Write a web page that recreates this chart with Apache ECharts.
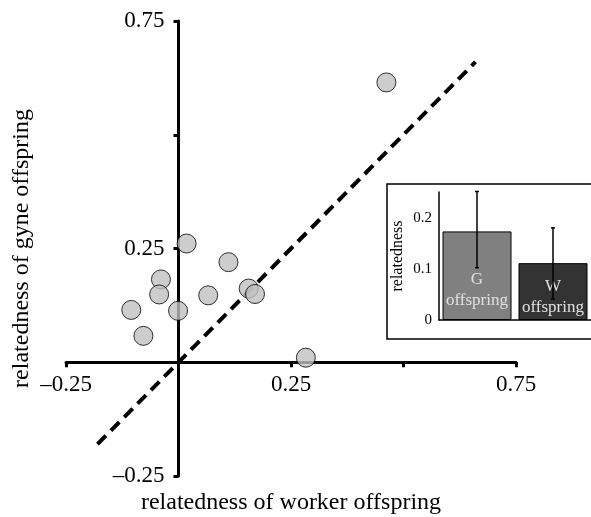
<!DOCTYPE html>
<html>
<head>
<meta charset="utf-8">
<script src="https://cdn.jsdelivr.net/npm/echarts@6/dist/echarts.min.js"></script>
<style>
  html, body { margin: 0; padding: 0; background: #fff; }
  #chart { width: 591px; height: 517px; }
</style>
</head>
<body>
<div id="chart"></div>
<script>
// main scatter: worker vs gyne offspring relatedness
const colonies = [
  [0.018, 0.261], [0.111, 0.220], [-0.039, 0.182], [-0.043, 0.149],
  [-0.105, 0.115], [-0.001, 0.113], [-0.078, 0.058], [0.066, 0.147],
  [0.156, 0.162], [0.170, 0.150], [0.283, 0.010], [0.462, 0.615]
];
const diagonal = [[-0.18, -0.18], [0.66, 0.66]];
const mainTicks = [-0.25, 0.25, 0.75];

// inset bar chart
const insetCats = ["G", "W"];
const insetMeans = [0.173, 0.111];
const insetLow = [0.102, 0.041];
const insetHigh = [0.251, 0.180];
const insetTicks = [0, 0.1, 0.2];

const serif = "Liberation Serif";
const chart = echarts.init(document.getElementById("chart"));

// main grid in px; axes are shifted in so they cross at 0
const mainGrid = { left: 66, right: 75, top: 21, bottom: 41 };
const plotW = 591 - mainGrid.left - mainGrid.right;
const plotH = 517 - mainGrid.top - mainGrid.bottom;
const xZeroShift = plotW * 0.25; // 0 sits a quarter of the way along
const yZeroShift = plotH * 0.25;

const showTick = v => mainTicks.some(t => Math.abs(t - v) < 1e-6);
const fmt = v => (showTick(v) ? (v < 0 ? "\u2013" + Math.abs(v) : String(v)) : "");

const option = {
  animation: false,
  textStyle: { fontFamily: serif },
  graphic: [
    {
      type: "rect",
      shape: { x: 387, y: 184, width: 210, height: 155 },
      style: { fill: "none", stroke: "#000", lineWidth: 1.5 }
    }
  ],
  grid: [
    Object.assign({ outerBoundsMode: "none" }, mainGrid),
    { left: 439, right: 0, top: 192, bottom: 197, outerBoundsMode: "none" }
  ],
  xAxis: [
    {
      type: "value",
      gridIndex: 0,
      min: -0.25,
      max: 0.75,
      interval: 0.25,
      offset: -yZeroShift,
      name: "relatedness of worker offspring",
      nameLocation: "middle",
      nameGap: 128,
      nameTextStyle: { fontSize: 24, color: "#000", fontFamily: serif },
      axisLine: { onZero: false, lineStyle: { color: "#000", width: 3 } },
      axisTick: { length: 5, lineStyle: { color: "#000", width: 3 } },
      axisLabel: { fontSize: 23, color: "#000", margin: 11, formatter: fmt },
      splitLine: { show: false }
    },
    {
      type: "category",
      gridIndex: 1,
      data: insetCats,
      axisLine: { lineStyle: { color: "#000", width: 1.5 } },
      axisTick: { show: false },
      axisLabel: { show: false }
    }
  ],
  yAxis: [
    {
      type: "value",
      gridIndex: 0,
      min: -0.25,
      max: 0.75,
      interval: 0.25,
      offset: -xZeroShift,
      name: "relatedness of gyne offspring",
      nameLocation: "middle",
      nameGap: 145,
      nameTextStyle: { fontSize: 24, color: "#000", fontFamily: serif },
      axisLine: { onZero: false, lineStyle: { color: "#000", width: 3 } },
      axisTick: { length: 5, lineStyle: { color: "#000", width: 3 } },
      axisLabel: { fontSize: 23, color: "#000", margin: 14, formatter: fmt },
      splitLine: { show: false }
    },
    {
      type: "value",
      gridIndex: 1,
      min: 0,
      max: 0.25,
      name: "relatedness",
      nameLocation: "middle",
      nameGap: 33,
      nameTextStyle: { fontSize: 16, color: "#000", fontFamily: serif },
      axisLine: { show: true, lineStyle: { color: "#000", width: 1.5 } },
      axisTick: { length: 3, customValues: insetTicks, lineStyle: { color: "#000", width: 1.5 } },
      axisLabel: { fontSize: 15, color: "#000", margin: 7, customValues: insetTicks, formatter: v => String(v) },
      splitLine: { show: false }
    }
  ],
  series: [
    {
      type: "line",
      xAxisIndex: 0,
      yAxisIndex: 0,
      data: diagonal,
      symbol: "none",
      lineStyle: { color: "#000", width: 4, type: [12, 7] },
      z: 1
    },
    {
      type: "scatter",
      xAxisIndex: 0,
      yAxisIndex: 0,
      data: colonies,
      symbolSize: 19,
      itemStyle: { color: "#c0c0c0", borderColor: "#000", borderWidth: 1 },
      z: 3
    },
    {
      type: "bar",
      xAxisIndex: 1,
      yAxisIndex: 1,
      barWidth: 69,
      data: insetMeans.map((v, i) => ({
        value: v,
        itemStyle: { color: i === 0 ? "#808080" : "#333333" },
        label: { distance: i === 0 ? 9 : 2 }
      })),
      itemStyle: { borderColor: "#000", borderWidth: 1 },
      label: {
        show: true,
        position: "insideBottom",
        formatter: p => p.name + "\noffspring",
        fontFamily: serif,
        fontSize: 17,
        lineHeight: 21,
        color: "#e0e0e0"
      }
    },
    {
      type: "custom",
      xAxisIndex: 1,
      yAxisIndex: 1,
      data: insetCats.map((c, i) => [i, insetLow[i], insetHigh[i]]),
      renderItem: (params, api) => {
        const lo = api.coord([api.value(0), api.value(1)]);
        const hi = api.coord([api.value(0), api.value(2)]);
        const cap = 2;
        const style = { stroke: "#000", lineWidth: 1.5 };
        return {
          type: "group",
          children: [
            { type: "line", shape: { x1: lo[0], y1: lo[1], x2: hi[0], y2: hi[1] }, style },
            { type: "line", shape: { x1: lo[0] - cap, y1: lo[1], x2: lo[0] + cap, y2: lo[1] }, style },
            { type: "line", shape: { x1: hi[0] - cap, y1: hi[1], x2: hi[0] + cap, y2: hi[1] }, style }
          ]
        };
      },
      z: 5
    }
  ]
};

chart.setOption(option);
</script>
</body>
</html>
